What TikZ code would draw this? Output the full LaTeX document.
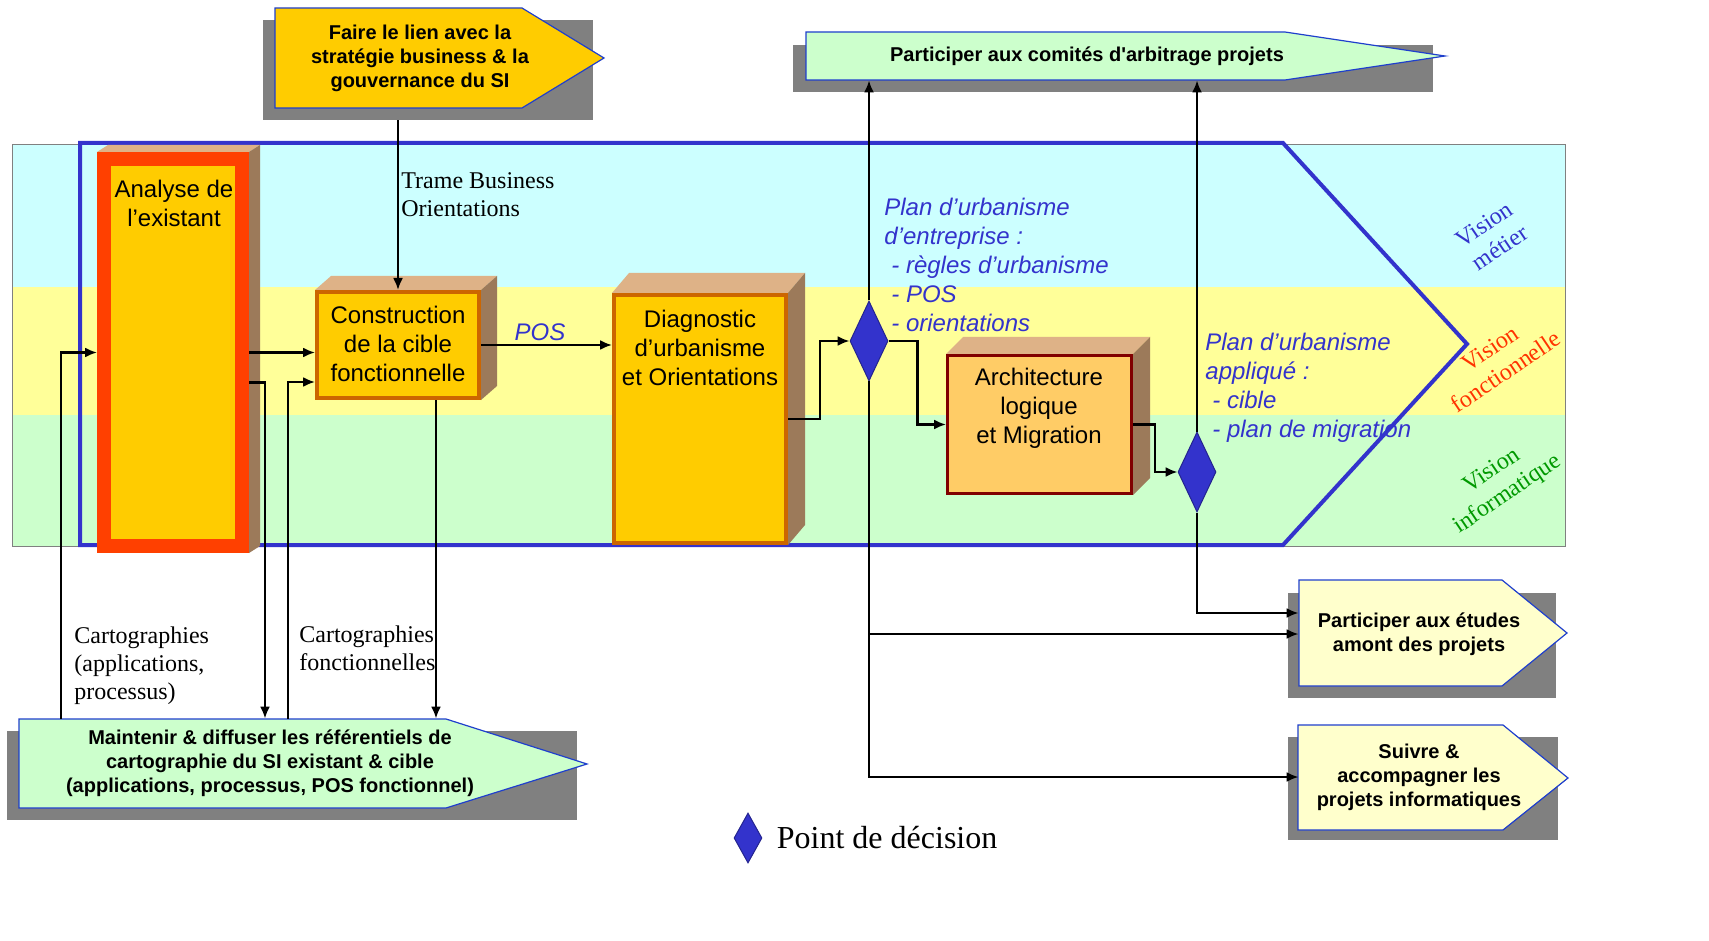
\documentclass[tikz,border=0pt]{standalone}
\usepackage{fontspec}
\setmainfont{Liberation Serif}
\setsansfont{Liberation Sans}
\usepackage{xcolor}
\definecolor{bandcyan}{HTML}{CCFFFF}
\definecolor{bandyellow}{HTML}{FFFF99}
\definecolor{bandgreen}{HTML}{CCFFCC}
\definecolor{urbablue}{HTML}{3333CC}
\definecolor{boxorange}{HTML}{FFCC00}
\definecolor{boxlight}{HTML}{FFCC66}
\definecolor{boxedge}{HTML}{CC6600}
\definecolor{rededge}{HTML}{FF4000}
\definecolor{darkred}{HTML}{800000}
\definecolor{facetop}{HTML}{DEB287}
\definecolor{faceside}{HTML}{9C7A5A}
\definecolor{shadowgray}{HTML}{808080}
\definecolor{paleyellow}{HTML}{FFFFCC}
\definecolor{palegreen}{HTML}{CCFFCC}
\definecolor{signalblue}{HTML}{1F3FCC}
\definecolor{visionred}{HTML}{FF3300}
\definecolor{visiongreen}{HTML}{009900}
\usepackage{tikz}
\usetikzlibrary{shapes.geometric,arrows.meta,positioning}

\begin{document}
\begin{tikzpicture}[x=0.5pt,y=-0.5pt,
    conn/.style={-{Latex[length=6pt,width=5pt]}, line width=1.1pt},
    cube/.style={draw=boxedge, fill=boxorange, line width=2pt, inner sep=0pt},
    boxtext/.style={font=\sffamily\fontsize{12}{14.5}\selectfont, align=center, inner sep=0pt},
    tasktext/.style={font=\sffamily\bfseries\fontsize{10}{12}\selectfont, align=center, inner sep=0pt},
    taskshape/.style={draw=signalblue, line width=0.6pt},
    note/.style={font=\fontsize{12}{14}\selectfont, align=left, inner sep=0pt},
    plan/.style={font=\sffamily\itshape\fontsize{12}{14.5}\selectfont, text=urbablue, align=left, inner sep=0pt},
    decision/.style={diamond, fill=urbablue, draw=urbablue!70!black, line width=0.5pt, inner sep=0pt, minimum width=19pt, minimum height=40pt},
    vision/.style={font=\fontsize{12}{14}\selectfont, align=center, rotate=34, inner sep=0pt}]
    \useasboundingbox (0,0) rectangle (1709,941);

    % Vision bands
    \fill[bandcyan] (12,145) rectangle (1565,287);
    \fill[bandyellow] (12,287) rectangle (1565,415);
    \fill[bandgreen] (12,415) rectangle (1565,546);
    \draw[shadowgray, line width=0.5pt] (12,145) rectangle (1565,546);

    % Urbanisation process frame
    \draw[urbablue, line width=2pt] (80,143) -- (1283,143) -- (1467,344) -- (1283,545) -- (80,545) -- cycle;

    % Task arrows with shadows
    \fill[shadowgray] (263,20) rectangle (593,120);
    \draw[taskshape, fill=boxorange] (275,8) -- (522,8) -- (604,58) -- (522,108) -- (275,108) -- cycle;
    \fill[shadowgray] (793,45) rectangle (1433,92);
    \draw[taskshape, fill=palegreen] (806,32) -- (1285,32) -- (1445,56) -- (1285,80) -- (806,80) -- cycle;
    \fill[shadowgray] (7,731) rectangle (577,820);
    \draw[taskshape, fill=palegreen] (19,719) -- (446,719) -- (587,764) -- (446,808) -- (19,808) -- cycle;
    \fill[shadowgray] (1288,593) rectangle (1556,698);
    \draw[taskshape, fill=paleyellow] (1299,580) -- (1502,580) -- (1567,633) -- (1502,686) -- (1299,686) -- cycle;
    \fill[shadowgray] (1288,737) rectangle (1558,840);
    \draw[taskshape, fill=paleyellow] (1298,725) -- (1503,725) -- (1568,778) -- (1503,830) -- (1298,830) -- cycle;

    % Process steps
    \node[cube, draw=rededge, line width=7pt, minimum width=69pt, minimum height=193.5pt] (analyse) at (173,352.5) {};
    \node[cube, minimum width=81pt, minimum height=53pt] (construction) at (398,345) {};
    \node[cube, minimum width=86pt, minimum height=124pt] (diag) at (700,419) {};
    \node[cube, draw=darkred, fill=boxlight, line width=1.5pt, minimum width=92pt, minimum height=69pt] (arch) at (1039.5,424.5) {};
    \foreach \n/\dx/\dy in {analyse/11/-7, construction/16/-14, diag/17/-20, arch/17/-17} {
        \fill[facetop] (\n.north west) -- ++(\dx,\dy) -- ([shift={(\dx,\dy)}]\n.north east) -- (\n.north east) -- cycle;
        \fill[faceside] (\n.north east) -- ++(\dx,\dy) -- ([shift={(\dx,\dy)}]\n.south east) -- (\n.south east) -- cycle;
    }
    \node[boxtext] (analysetxt) at (174,203) {Analyse de\\l’existant};
    \node[boxtext] (constructiontxt) at (398,344) {Construction\\de la cible\\fonctionnelle};
    \node[boxtext] (diagtxt) at (700,348) {Diagnostic\\d’urbanisme\\et Orientations};
    \node[boxtext] (archtxt) at (1039,408) {Architecture\\logique\\et Migration};

    % Decision points
    \node[decision] (d1) at (869,341) {};
    \node[decision] (d2) at (1197,472) {};

    % Task texts
    \node[tasktext, minimum height=50pt] (faire) at (420,58) {Faire le lien avec la\\stratégie business \& la\\gouvernance du SI};
    \node[tasktext, minimum height=24pt] (comites) at (1087,56) {Participer aux comités d\textquotesingle arbitrage projets};
    \node[tasktext, minimum height=44.5pt, minimum width=251pt] (maint) at (270,763.5) {Maintenir \& diffuser les référentiels de\\cartographie du SI existant \& cible\\(applications, processus, POS fonctionnel)};
    \node[tasktext, minimum width=120pt] (etudes) at (1419,634) {Participer aux études\\amont des projets};
    \node[tasktext, minimum width=120pt] (suivre) at (1419,777) {Suivre \&\\accompagner les\\projets informatiques};

    % Flow labels
    \node[note, anchor=west] (trame) at (401,195) {Trame Business\\Orientations};
    \node[note, anchor=west] (carto) at (74,666) {Cartographies\\(applications,\\processus)};
    \node[note, anchor=west] (cartofonc) at (299,648) {Cartographies\\fonctionnelles};
    \node[plan] (pos) at (540,332) {POS};
    \node[plan, anchor=west] (planent) at (884,265) {Plan d’urbanisme\\d’entreprise :\\\hspace{3.5pt}- règles d’urbanisme\\\hspace{3.5pt}- POS\\\hspace{3.5pt}- orientations};
    \node[plan, anchor=west] (planapp) at (1205,388) {Plan d’urbanisme\\appliqué :\\\hspace{3.5pt}- cible\\\hspace{3.5pt}- plan de migration};

    % Vision labels
    \node[vision, text=urbablue] (vmetier) at (1492,236) {Vision\\métier};
    \node[vision, text=visionred] (vfonc) at (1498,360) {Vision\\fonctionnelle};
    \node[vision, text=visiongreen] (vinfo) at (1500,483) {Vision\\informatique};

    % Connectors
    \coordinate (faireOut) at ([yshift=-6pt]faire.south);
    \draw[conn] (construction.north |- faireOut) -- (construction.north);
    \draw[conn] ([xshift=21pt]maint.north west) |- (analyse.west);
    \draw[conn] (analyse.east) -- (analyse.east -| construction.west);
    \draw[conn] ([yshift=-15pt]analyse.east) -- ++(8pt,0) coordinate (aBend) -- (aBend |- maint.north);
    \coordinate (cIn) at ([yshift=-18.5pt]construction.west);
    \draw[conn] ([xshift=134.5pt]maint.north west) |- (cIn);
    \draw[conn] ([xshift=19pt]construction.south) coordinate (cOut) -- (cOut |- maint.north);
    \draw[conn] (construction.east) -- (construction.east -| diag.west);
    \draw[conn] (diag.east) -- ++(16pt,0) |- (d1.west);
    \draw[conn] (d1.east) -- ++(14.5pt,0) |- (arch.west);
    \draw[conn] (arch.east) -- ++(11pt,0) |- (d2.west);
    \draw[conn] (d1.north) -- (d1.north |- comites.south);
    \draw[conn] (d2.north) -- (d2.north |- comites.south);
    \draw[conn] (d1.south) |- (suivre.west);
    \draw[conn] (d1.south |- etudes.west) -- (etudes.west);
    \coordinate (eIn) at ([yshift=10.5pt]etudes.west);
    \draw[conn] (d2.south) |- (eIn);

    % Legend
    \node[decision, minimum width=14pt, minimum height=25pt] (legend) at (748,838) {};
    \node[font=\fontsize{16}{19}\selectfont, inner sep=0pt, right=7pt of legend] (legendtxt) {Point de décision};
\end{tikzpicture}
\end{document}
